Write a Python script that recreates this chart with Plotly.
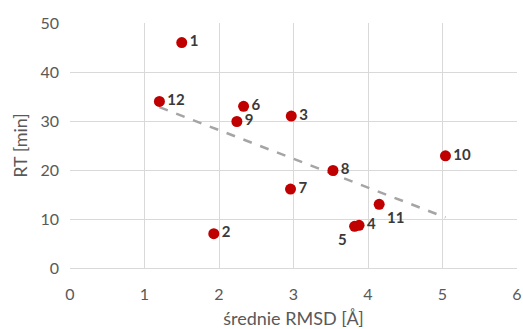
import numpy as np
import plotly.graph_objects as go

labels = ["1", "2", "3", "4", "5", "6", "7", "8", "9", "10", "11", "12"]
rmsd = [1.50, 1.93, 2.97, 3.88, 3.82, 2.33, 2.96, 3.53, 2.24, 5.04, 4.15, 1.20]
rt = [46.0, 7.0, 31.0, 8.7, 8.5, 33.0, 16.1, 19.9, 29.9, 22.9, 13.0, 34.0]
text_pos = ["middle right", "middle right", "middle right", "middle right", "bottom left",
            "middle right", "middle right", "middle right", "middle right", "middle right",
            "bottom right", "middle right"]

x_ticks = [0, 1, 2, 3, 4, 5, 6]
y_ticks = [0, 10, 20, 30, 40, 50]

slope, intercept = np.polyfit(rmsd, rt, 1)
tx = np.array([min(rmsd), max(rmsd)])
ty = slope * tx + intercept

fig = go.Figure()
fig.add_trace(go.Scatter(
    x=tx, y=ty, mode="lines",
    line=dict(color="#a5a5a5", width=2.5, dash="dash"),
    hoverinfo="skip", showlegend=False))
fig.add_trace(go.Scatter(
    x=rmsd, y=rt, mode="markers+text", text=[f"<b>{t}</b>" for t in labels],
    textposition=text_pos,
    textfont=dict(family="Lato, Open Sans, sans-serif", size=15, color="#3a3a3a"),
    marker=dict(color="#c00000", size=11),
    showlegend=False))

fig.update_layout(
    width=523, height=329,
    margin=dict(l=70, r=6, t=23, b=61),
    paper_bgcolor="white", plot_bgcolor="white",
    font=dict(family="Lato, Open Sans, sans-serif", color="#595959", size=15),
    xaxis=dict(range=[0, 6], tickvals=x_ticks, showgrid=True, gridcolor="#d9d9d9",
               zeroline=False, showline=True, linecolor="#d9d9d9", mirror=False,
               ticks="", ticklabelstandoff=12, automargin=False,
               title=dict(text="średnie RMSD [Å]", standoff=10),
               tickfont=dict(size=16)),
    yaxis=dict(range=[0, 50], tickvals=y_ticks, showgrid=True, gridcolor="#d9d9d9",
               zeroline=False, showline=False, ticks="", ticklabelstandoff=10,
               automargin=False,
               title=dict(text="RT [min]", standoff=8), tickfont=dict(size=16)),
)
fig.write_html("out.html")
